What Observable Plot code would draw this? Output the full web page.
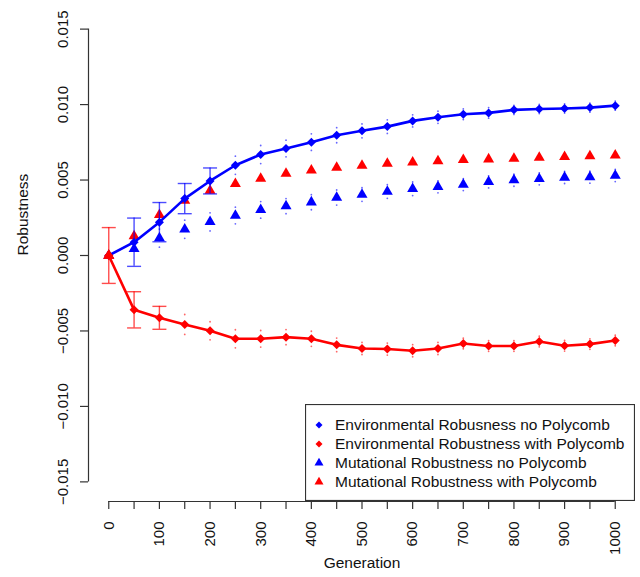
<!DOCTYPE html>
<html><head><meta charset="utf-8">
<script src="https://cdn.jsdelivr.net/npm/d3@7"></script>
<script src="https://cdn.jsdelivr.net/npm/@observablehq/plot@0.6"></script>
<style>
body{margin:0;background:#fff;font-family:"Liberation Sans",Arial,sans-serif;}
#wrap{position:relative;width:640px;height:577px;}
#legend{position:absolute;left:305px;top:404px;}
</style></head>
<body><div id="wrap"><div id="chart"></div><div id="legend"></div></div>
<script>
// ---- data ----
const gens = [0,50,100,150,200,250,300,350,400,450,500,550,600,650,700,750,800,850,900,950,1000];
const envNo   = [0,0.00088,0.00221,0.00377,0.00494,0.00598,0.00669,0.00709,0.00751,0.00797,0.00826,0.00854,0.00892,0.00916,0.00936,0.00945,0.00965,0.00971,0.00974,0.0098,0.00993];
const envWith = [0,-0.0036,-0.00413,-0.00457,-0.00499,-0.00552,-0.00552,-0.00541,-0.00552,-0.00592,-0.00616,-0.0062,-0.00631,-0.00616,-0.00583,-0.006,-0.006,-0.0057,-0.00598,-0.00587,-0.00563];
const mutNo   = [0,0.00044,0.00115,0.00174,0.00223,0.00265,0.00302,0.00327,0.00353,0.00384,0.00404,0.00424,0.00442,0.00455,0.0047,0.00488,0.00499,0.00508,0.00517,0.00519,0.0053];
const mutWith = [0,0.00128,0.0027,0.00364,0.0043,0.00475,0.0051,0.00543,0.00565,0.00583,0.00596,0.00609,0.00618,0.00625,0.00634,0.00638,0.00642,0.00649,0.00653,0.00658,0.00664];
const envNoErr   = [0,0.0016,0.0013,0.001,0.00086,0.0006,0.0006,0.00055,0.00055,0.0005,0.00046,0.00045,0.0004,0.0004,0.00035,0.00035,0.0003,0.0003,0.0003,0.0003,0.0003];
const envWithErr = [0.00185,0.0012,0.00076,0.00066,0.0006,0.0006,0.00055,0.0005,0.0005,0.00045,0.0004,0.0004,0.0004,0.0004,0.00035,0.00035,0.00035,0.00035,0.00035,0.00035,0.00035];
const mutNoErr   = [0,0,0.0006,0.0006,0.0006,0.00055,0.00055,0.0005,0.0005,0.0005,0.00045,0.00045,0.00045,0.0004,0.0004,0.0004,0.0004,0.0004,0.0004,0.0004,0.0004];
const yTicks = [-0.015,-0.01,-0.005,0,0.005,0.01,0.015];
const legendNames = ["Environmental Robusness no Polycomb","Environmental Robustness with Polycomb","Mutational Robustness no Polycomb","Mutational Robustness with Polycomb"];
const legendColors = ["#0000ff","#ff0000","#0000ff","#ff0000"];
const legendShapes = ["diamond","diamond","triangle","triangle"];

// ---- build tables ----
const rows = (vals, errs) => gens.map((g,i)=>({g, v: vals[i], e: errs ? errs[i] : 0}));
const eNo = rows(envNo, envNoErr), eWith = rows(envWith, envWithErr), mNo = rows(mutNo, mutNoErr), mWith = rows(mutWith);
const BIG = 0.0007;

// custom symbols
const rhombus = {draw(ctx, size){const r=Math.sqrt(size/Math.PI); ctx.moveTo(0,-r); ctx.lineTo(r,0); ctx.lineTo(0,r); ctx.lineTo(-r,0); ctx.closePath();}};
const tri = {draw(ctx, size){const a=Math.sqrt(size/Math.PI); const R=2*a/Math.sqrt(3); ctx.moveTo(0,-R); ctx.lineTo(a,R/2); ctx.lineTo(-a,R/2); ctx.closePath();}};
const cap = {draw(ctx, size){const r=Math.sqrt(size/Math.PI); ctx.moveTo(-r,0); ctx.lineTo(r,0);}};

function errMarks(data, color){
  const big = data.filter(d=>d.e>=BIG), small = data.filter(d=>d.e>0 && d.e<BIG);
  const ends = [];
  for (const d of big) { ends.push({g:d.g, y:d.v+d.e}); ends.push({g:d.g, y:d.v-d.e}); }
  const dots = [];
  for (const d of small) { dots.push({g:d.g, y:d.v+d.e}); dots.push({g:d.g, y:d.v-d.e}); }
  return [
    Plot.ruleX(big, {x:"g", y1: d=>d.v-d.e, y2: d=>d.v+d.e, stroke: color, strokeOpacity:0.7, strokeWidth:1.4}),
    Plot.dot(ends, {x:"g", y:"y", symbol: cap, r:7, stroke: color, strokeOpacity:0.7, strokeWidth:1.4, fill:"none"}),
    Plot.dot(dots, {x:"g", y:"y", r:0.9, fill: color, fillOpacity:0.6, stroke:"none"})
  ];
}

const xDom = [-40, 1040], yDom = [-0.0163, 0.0163];
const chart = Plot.plot({
  width: 640, height: 577,
  marginLeft: 88, marginRight: 5, marginTop: 9, marginBottom: 76,
  style: {fontFamily: '"Liberation Sans", Arial, sans-serif', fontSize: "15px", color: "#111"},
  x: {domain: xDom},
  y: {domain: yDom},
  marks: [
    Plot.ruleY([yDom[0]], {x1: gens[0], x2: gens[gens.length-1], stroke: "#333", strokeWidth: 1.2}),
    Plot.ruleX([xDom[0]], {y1: yTicks[0], y2: yTicks[yTicks.length-1], stroke: "#333", strokeWidth: 1.2}),
    Plot.axisX({ticks: gens, tickSize: 8, tickRotate: -90, tickPadding: 12, tickFormat: d => d % 100 === 0 ? String(d) : "", label: null, stroke: "#333", strokeWidth: 1.2, fontSize: 15}),
    Plot.axisY({ticks: yTicks, tickSize: 8, tickRotate: -90, tickPadding: 13, tickFormat: d3.format(".3f"), label: null, stroke: "#333", strokeWidth: 1.2, fontSize: 15}),
    Plot.text(["Generation"], {frameAnchor: "bottom", dy: 66, fontSize: 15.5, fill: "#111"}),
    Plot.text(["Robustness"], {frameAnchor: "left", dx: -65, rotate: -90, fontSize: 15.5, fill: "#111"}),
    ...errMarks(mNo, "#0000ff"),
    Plot.dot(mNo, {x:"g", y:"v", symbol: tri, r:5.5, fill:"#0000ff", stroke:"none"}),
    Plot.dot(mWith, {x:"g", y:"v", symbol: tri, r:5.5, fill:"#ff0000", stroke:"none"}),
    Plot.line(eNo, {x:"g", y:"v", stroke:"#0000ff", strokeWidth:2.6}),
    Plot.dot(eNo, {x:"g", y:"v", symbol: rhombus, r:4.5, fill:"#0000ff", stroke:"none"}),
    Plot.line(eWith, {x:"g", y:"v", stroke:"#ff0000", strokeWidth:2.6}),
    Plot.dot(eWith, {x:"g", y:"v", symbol: rhombus, r:4.5, fill:"#ff0000", stroke:"none"}),
    ...errMarks(eNo, "#0000ff"),
    ...errMarks(eWith, "#ff0000"),
    Plot.dot([mWith[0]], {x:"g", y:"v", symbol: tri, r:5.5, fill:"#ff0000", stroke:"none"})
  ]
});
document.getElementById("chart").appendChild(chart);

// ---- legend ----
const W = 330, H = 97;
const svg = d3.select("#legend").append("svg").attr("width", W).attr("height", H);
svg.append("rect").attr("x",0.5).attr("y",0.5).attr("width",W-1).attr("height",H-1).attr("fill","#fff").attr("stroke","#333").attr("stroke-width",1.2);
legendNames.forEach((name,i)=>{
  const cy = 21 + i*19;
  const g = svg.append("g").attr("transform", `translate(14,${cy})`);
  if (legendShapes[i] === "diamond") g.append("path").attr("d","M0,-3.5L3.5,0L0,3.5L-3.5,0Z").attr("fill", legendColors[i]);
  else g.append("path").attr("d","M0,-5.2L4.5,2.6L-4.5,2.6Z").attr("fill", legendColors[i]);
  svg.append("text").attr("x",30).attr("y",cy).attr("dy","0.35em").attr("font-size","15.5px").attr("fill","#111")
    .attr("font-family",'"Liberation Sans", Arial, sans-serif').text(name);
});
</script>
</body></html>
